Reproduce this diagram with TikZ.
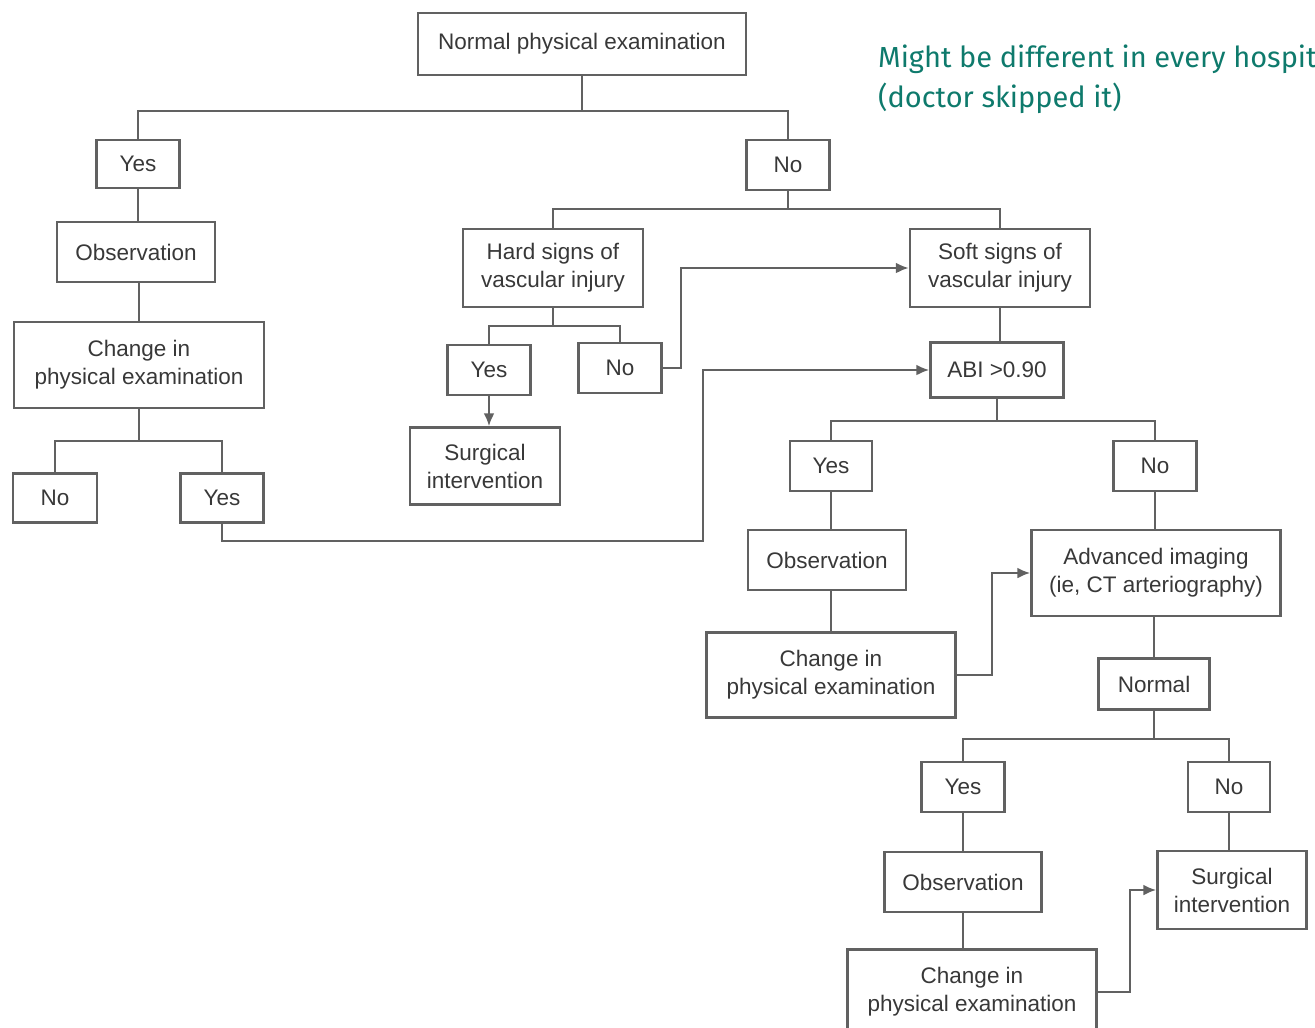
\documentclass[tikz,border=0pt]{standalone}
\usepackage{fontspec}
\setmainfont{Liberation Sans}
\newfontfamily\notefont{Fira Sans}
\usetikzlibrary{arrows.meta}
\definecolor{noteteal}{RGB}{14,122,108}
\tikzset{
  box/.style={draw=black!62,line width=2.4pt,text=black!78,align=center,
    font=\fontsize{22.5}{28}\selectfont,inner sep=0pt},
  link/.style={draw=black!62,line width=2.4pt},
  arr/.style={link,-{Latex[length=13pt,width=11pt]}}
}
\begin{document}
\begin{tikzpicture}[x=1pt,y=-1pt]
    \useasboundingbox (0,0) rectangle (1315,1028);
    \clip (0,0) rectangle (1315,1028);
    %\draw[very thin,color=gray] (0,0) grid[step=100] (1315,1028);
    \node[box,minimum width=328,minimum height=62] (exam) at (582,44) {Normal physical examination};
    \node[box,minimum width=83,minimum height=48] (yesA) at (138,164) {Yes};
    \node[box,minimum width=83,minimum height=50] (noA) at (788,165) {No};
    \node[box,minimum width=158,minimum height=60] (obsA) at (136,252) {Observation};
    \node[box,minimum width=250,minimum height=86] (chgA) at (139,365) {Change in\\physical examination};
    \node[box,minimum width=84,minimum height=49] (noB) at (55,498) {No};
    \node[box,minimum width=83,minimum height=49] (yesB) at (222,498) {Yes};
    \node[box,minimum width=180,minimum height=78] (hard) at (553,268) {Hard signs of\\vascular injury};
    \node[box,minimum width=180,minimum height=78] (soft) at (1000,268) {Soft signs of\\vascular injury};
    \node[box,minimum width=83,minimum height=50] (yesC) at (489,370) {Yes};
    \node[box,minimum width=83,minimum height=50] (noC) at (620,368) {No};
    \node[box,minimum width=150,minimum height=77] (surgA) at (485,466) {Surgical\\intervention};
    \node[box,minimum width=133,minimum height=55] (abi) at (997,370) {ABI >0.90};
    \node[box,minimum width=82,minimum height=50] (yesD) at (831,466) {Yes};
    \node[box,minimum width=83,minimum height=50] (noD) at (1155,466) {No};
    \node[box,minimum width=158,minimum height=60] (obsB) at (827,560) {Observation};
    \node[box,minimum width=249,minimum height=85] (chgB) at (831,675) {Change in\\physical examination};
    \node[box,minimum width=249,minimum height=86] (adv) at (1156,573) {Advanced imaging\\(ie, CT arteriography)};
    \node[box,minimum width=111,minimum height=51] (normal) at (1154,684) {Normal};
    \node[box,minimum width=83,minimum height=50] (yesE) at (963,787) {Yes};
    \node[box,minimum width=82,minimum height=50] (noE) at (1229,787) {No};
    \node[box,minimum width=157,minimum height=60] (obsC) at (963,882) {Observation};
    \node[box,minimum width=249,minimum height=85] (chgC) at (972,992) {Change in\\physical examination};
    \node[box,minimum width=149,minimum height=78] (surgB) at (1232,890) {Surgical\\intervention};
    % note
    \node[anchor=north west,align=left,inner sep=0pt,text=noteteal,
      font=\notefont\fontsize{29}{40}\selectfont] (note) at (878,45)
      {Might be different in every hospital\\(doctor skipped it)};
    % left branch
    \draw[link] (exam.south) -- ++(0,35) coordinate (j1);
    \draw[link] (j1) -| (yesA.north);
    \draw[link] (j1) -| (noA.north);
    \draw[link] (yesA.south) -- (yesA.south |- obsA.north);
    \draw[link] (chgA.north |- obsA.south) -- (chgA.north);
    \draw[link] (chgA.south) -- ++(0,32) coordinate (j2);
    \draw[link] (j2) -| (noB.north);
    \draw[link] (j2) -| (yesB.north);
    \draw[arr] (yesB.south) |- (703,541) |- (abi.west);
    % right branch
    \draw[link] (noA.south) -- ++(0,18) coordinate (j3);
    \draw[link] (j3) -| (hard.north);
    \draw[link] (j3) -| (soft.north);
    \draw[link] (hard.south) -- ++(0,18) coordinate (j4);
    \draw[link] (j4) -| (yesC.north);
    \draw[link] (j4) -| (noC.north);
    \draw[arr] (yesC.south) -- (yesC.south |- surgA.north);
    \draw[arr] (noC.east) -- ++(18,0) |- (soft.west);
    \draw[link] (soft.south) -- (soft.south |- abi.north);
    \draw[link] (abi.south) -- ++(0,22) coordinate (j5);
    \draw[link] (j5) -| (yesD.north);
    \draw[link] (j5) -| (noD.north);
    \draw[link] (yesD.south) -- (yesD.south |- obsB.north);
    \draw[link] (chgB.north |- obsB.south) -- (chgB.north);
    \draw[arr] (chgB.east) -- ++(35,0) |- (adv.west);
    \draw[link] (noD.south) -- (noD.south |- adv.north);
    \draw[link] (adv.south -| normal.north) -- (normal.north);
    \draw[link] (normal.south) -- ++(0,28) coordinate (j6);
    \draw[link] (j6) -| (yesE.north);
    \draw[link] (j6) -| (noE.north);
    \draw[link] (yesE.south) -- (yesE.south |- obsC.north);
    \draw[link] (obsC.south) -- (obsC.south |- chgC.north);
    \draw[link] (noE.south) -- (noE.south |- surgB.north);
    \draw[arr] (chgC.east) -- ++(32,0) |- (surgB.west);
\end{tikzpicture}
\end{document}
